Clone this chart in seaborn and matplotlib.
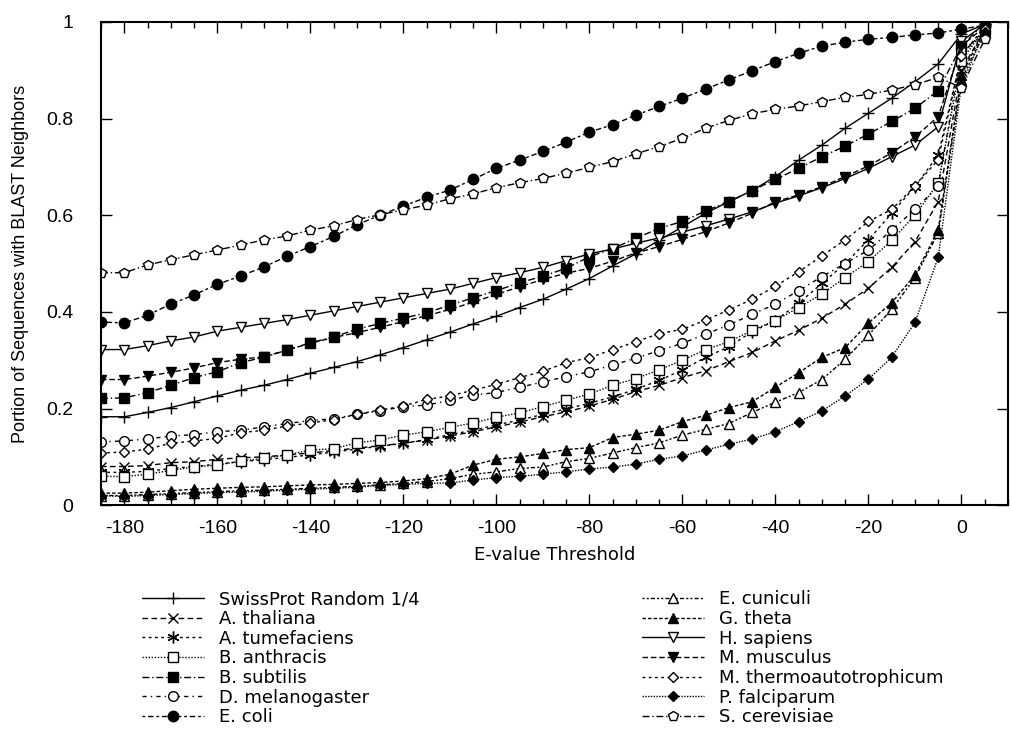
import matplotlib
matplotlib.use("Agg")
import matplotlib.pyplot as plt
from matplotlib.ticker import MultipleLocator, FixedLocator
import seaborn as sns
import pandas as pd

sns.set_style("ticks")
plt.rcParams['font.family'] = ['Liberation Sans', 'DejaVu Sans']
plt.rcParams['axes.unicode_minus'] = False
plt.rcParams['text.color'] = 'black'
plt.rcParams['axes.labelcolor'] = 'black'
plt.rcParams['xtick.color'] = 'black'
plt.rcParams['ytick.color'] = 'black'

evalues = [-185, -180, -175, -170, -165, -160, -155, -150, -145, -140, -135, -130,
           -125, -120, -115, -110, -105, -100, -95, -90, -85, -80, -75, -70, -65,
           -60, -55, -50, -45, -40, -35, -30, -25, -20, -15, -10, -5, 0, 5]

swissprot = [0.183, 0.183, 0.192, 0.202, 0.214, 0.226, 0.238, 0.248, 0.260, 0.273, 0.285, 0.297,
             0.311, 0.326, 0.342, 0.358, 0.375, 0.391, 0.409, 0.426, 0.447, 0.469, 0.495, 0.520, 0.548,
             0.576, 0.604, 0.628, 0.651, 0.680, 0.714, 0.745, 0.780, 0.811, 0.842, 0.876, 0.913, 0.975, 0.995]
a_thaliana = [0.080, 0.080, 0.082, 0.088, 0.090, 0.095, 0.098, 0.100, 0.104, 0.108, 0.113, 0.118,
              0.123, 0.128, 0.135, 0.143, 0.152, 0.162, 0.172, 0.183, 0.193, 0.205, 0.219, 0.235, 0.248,
              0.264, 0.278, 0.297, 0.316, 0.340, 0.362, 0.387, 0.416, 0.449, 0.492, 0.545, 0.628, 0.900, 0.985]
a_tumefaciens = [0.068, 0.068, 0.070, 0.076, 0.080, 0.085, 0.090, 0.094, 0.099, 0.104, 0.110, 0.116,
                 0.122, 0.128, 0.136, 0.146, 0.155, 0.166, 0.176, 0.188, 0.199, 0.211, 0.224, 0.240, 0.258,
                 0.280, 0.306, 0.328, 0.359, 0.382, 0.418, 0.459, 0.500, 0.549, 0.604, 0.659, 0.725, 0.930, 0.990]
b_anthracis = [0.060, 0.059, 0.064, 0.072, 0.079, 0.083, 0.091, 0.097, 0.104, 0.114, 0.117, 0.129,
               0.135, 0.145, 0.152, 0.161, 0.170, 0.182, 0.191, 0.204, 0.217, 0.230, 0.248, 0.262, 0.280,
               0.300, 0.322, 0.338, 0.362, 0.382, 0.409, 0.437, 0.471, 0.504, 0.548, 0.600, 0.666, 0.920, 0.985]
b_subtilis = [0.221, 0.222, 0.233, 0.248, 0.264, 0.276, 0.295, 0.306, 0.321, 0.336, 0.348, 0.364,
              0.376, 0.387, 0.398, 0.414, 0.429, 0.444, 0.460, 0.474, 0.490, 0.514, 0.531, 0.552, 0.573,
              0.587, 0.609, 0.628, 0.651, 0.674, 0.697, 0.721, 0.743, 0.768, 0.794, 0.821, 0.858, 0.950, 0.998]
d_melanogaster = [0.131, 0.133, 0.137, 0.143, 0.146, 0.152, 0.155, 0.162, 0.169, 0.175, 0.179, 0.188,
                  0.195, 0.204, 0.207, 0.217, 0.228, 0.233, 0.244, 0.255, 0.266, 0.276, 0.290, 0.304, 0.320,
                  0.335, 0.354, 0.373, 0.395, 0.416, 0.444, 0.473, 0.500, 0.528, 0.569, 0.612, 0.660, 0.940, 0.975]
e_coli = [0.379, 0.377, 0.393, 0.416, 0.435, 0.457, 0.474, 0.493, 0.515, 0.535, 0.556, 0.580,
          0.600, 0.619, 0.637, 0.652, 0.674, 0.697, 0.714, 0.732, 0.751, 0.772, 0.787, 0.807, 0.825,
          0.842, 0.861, 0.880, 0.899, 0.918, 0.935, 0.950, 0.958, 0.964, 0.968, 0.973, 0.977, 0.985, 0.993]
e_cuniculi = [0.020, 0.020, 0.022, 0.024, 0.026, 0.028, 0.030, 0.031, 0.033, 0.035, 0.037, 0.039,
              0.042, 0.045, 0.049, 0.055, 0.064, 0.069, 0.076, 0.079, 0.090, 0.097, 0.108, 0.119, 0.129,
              0.145, 0.157, 0.169, 0.192, 0.213, 0.233, 0.260, 0.302, 0.352, 0.405, 0.471, 0.563, 0.880, 0.980]
g_theta = [0.025, 0.025, 0.027, 0.030, 0.033, 0.035, 0.037, 0.038, 0.040, 0.042, 0.043, 0.045,
           0.047, 0.050, 0.055, 0.064, 0.083, 0.095, 0.100, 0.107, 0.115, 0.119, 0.140, 0.147, 0.155,
           0.173, 0.186, 0.202, 0.214, 0.244, 0.274, 0.306, 0.326, 0.377, 0.419, 0.476, 0.569, 0.890, 0.985]
h_sapiens = [0.322, 0.322, 0.330, 0.340, 0.348, 0.360, 0.368, 0.376, 0.384, 0.393, 0.402, 0.411,
             0.420, 0.429, 0.438, 0.447, 0.459, 0.471, 0.481, 0.492, 0.506, 0.520, 0.530, 0.542, 0.553,
             0.565, 0.578, 0.592, 0.607, 0.625, 0.640, 0.657, 0.676, 0.697, 0.721, 0.745, 0.783, 0.960, 0.995]
m_musculus = [0.260, 0.260, 0.267, 0.275, 0.284, 0.295, 0.302, 0.307, 0.321, 0.335, 0.347, 0.357,
              0.368, 0.380, 0.392, 0.405, 0.420, 0.436, 0.452, 0.467, 0.480, 0.490, 0.505, 0.522, 0.535,
              0.550, 0.566, 0.584, 0.604, 0.628, 0.642, 0.659, 0.680, 0.702, 0.729, 0.762, 0.804, 0.950, 0.990]
m_thermo = [0.108, 0.110, 0.116, 0.128, 0.133, 0.138, 0.150, 0.155, 0.164, 0.170, 0.177, 0.188,
            0.197, 0.205, 0.219, 0.226, 0.238, 0.250, 0.264, 0.277, 0.295, 0.305, 0.322, 0.338, 0.355,
            0.364, 0.383, 0.404, 0.426, 0.453, 0.483, 0.516, 0.549, 0.587, 0.612, 0.660, 0.715, 0.930, 0.985]
p_falciparum = [0.020, 0.018, 0.020, 0.022, 0.024, 0.026, 0.027, 0.029, 0.031, 0.033, 0.035, 0.037,
                0.041, 0.043, 0.045, 0.046, 0.052, 0.057, 0.060, 0.064, 0.069, 0.075, 0.079, 0.085, 0.095,
                0.102, 0.114, 0.126, 0.137, 0.152, 0.173, 0.195, 0.226, 0.261, 0.306, 0.378, 0.513, 0.870, 0.980]
s_cerevisiae = [0.481, 0.481, 0.497, 0.508, 0.518, 0.528, 0.538, 0.549, 0.557, 0.569, 0.578, 0.591,
                0.601, 0.611, 0.621, 0.634, 0.644, 0.657, 0.667, 0.676, 0.687, 0.699, 0.711, 0.727, 0.742,
                0.759, 0.780, 0.796, 0.810, 0.819, 0.826, 0.835, 0.844, 0.850, 0.859, 0.870, 0.885, 0.864, 0.964]

series_names = ["SwissProt Random 1/4", "A. thaliana", "A. tumefaciens", "B. anthracis",
                "B. subtilis", "D. melanogaster", "E. coli", "E. cuniculi", "G. theta",
                "H. sapiens", "M. musculus", "M. thermoautotrophicum", "P. falciparum",
                "S. cerevisiae"]
series_values = [swissprot, a_thaliana, a_tumefaciens, b_anthracis, b_subtilis, d_melanogaster,
                 e_coli, e_cuniculi, g_theta, h_sapiens, m_musculus, m_thermo, p_falciparum,
                 s_cerevisiae]

x_ticks = [-180, -160, -140, -120, -100, -80, -60, -40, -20, 0]
y_ticks = [0, 0.2, 0.4, 0.6, 0.8, 1.0]
y_tick_labels = ["0", "0.2", "0.4", "0.6", "0.8", "1"]

# style: (marker, markersize, filled, linestyle)
styles = [
    ("+", 8.5, True, "-"),
    ("x", 7, True, (0, (4, 2.5))),
    ((6, 2, 0), 8.5, True, (0, (2, 2.5))),
    ("s", 6.5, False, (0, (1, 1.2))),
    ("s", 6.5, True, (0, (5, 2, 1, 2))),
    ("o", 7, False, (0, (3, 3, 1, 3))),
    ("o", 7.5, True, (0, (2, 2, 4, 2))),
    ("^", 7, False, (0, (1.5, 1.5, 1.5, 1.5, 3, 1.5))),
    ("^", 7, True, (0, (2.5, 1.5))),
    ("v", 7, False, "-"),
    ("v", 7, True, (0, (4, 2))),
    ("D", 5.5, False, (0, (2, 2.5))),
    ("D", 5.5, True, (0, (1, 1))),
    ("p", 7, False, (0, (5, 2, 1, 2))),
]

fig = plt.figure(figsize=(10.1, 7.29), dpi=100)
ax = fig.add_axes([0.1, 0.307, 0.898, 0.663])

for name, vals, (mk, ms, filled, ls) in zip(series_names, series_values, styles):
    df = pd.DataFrame({"E-value": evalues, "portion": vals})
    sns.lineplot(data=df, x="E-value", y="portion", ax=ax, color="black",
                 linestyle=ls, linewidth=1.0, marker=mk, markersize=ms,
                 markerfacecolor="black" if filled else "white",
                 markeredgecolor="black", markeredgewidth=1.0,
                 label=name, errorbar=None, sort=False)

ax.set_xlim(-185, 10)
ax.set_ylim(0, 1)
ax.xaxis.set_major_locator(FixedLocator(x_ticks))
ax.xaxis.set_minor_locator(MultipleLocator(5))
ax.set_yticks(y_ticks)
ax.set_yticklabels(y_tick_labels)
ax.tick_params(which="major", direction="in", top=True, right=True, length=8, width=1,
               labelsize=14, colors="black")
ax.tick_params(which="minor", direction="in", top=True, right=True, length=4, width=1)
ax.tick_params(axis="y", pad=20)
ax.tick_params(axis="x", pad=11)
for sp in ax.spines.values():
    sp.set_linewidth(1.5)
    sp.set_color("black")

ax.set_xlabel("E-value Threshold", fontsize=13, labelpad=6, family=["DejaVu Sans"],
              color="black")
ax.set_ylabel("Portion of Sequences with BLAST Neighbors", fontsize=13, labelpad=12,
              color="black")

handles, labels = ax.get_legend_handles_labels()
ax.get_legend().remove()
leg_kw = dict(loc="upper left", frameon=False,
              prop={"family": "DejaVu Sans", "size": 13},
              handlelength=3.4, handletextpad=0.85, labelspacing=0.09,
              borderpad=0, borderaxespad=0, labelcolor="black")
leg1 = fig.legend(handles[:7], labels[:7], bbox_to_anchor=(0.141, 0.19), **leg_kw)
leg2 = fig.legend(handles[7:], labels[7:], bbox_to_anchor=(0.636, 0.19), **leg_kw)

fig.savefig("out.png", dpi=100)
